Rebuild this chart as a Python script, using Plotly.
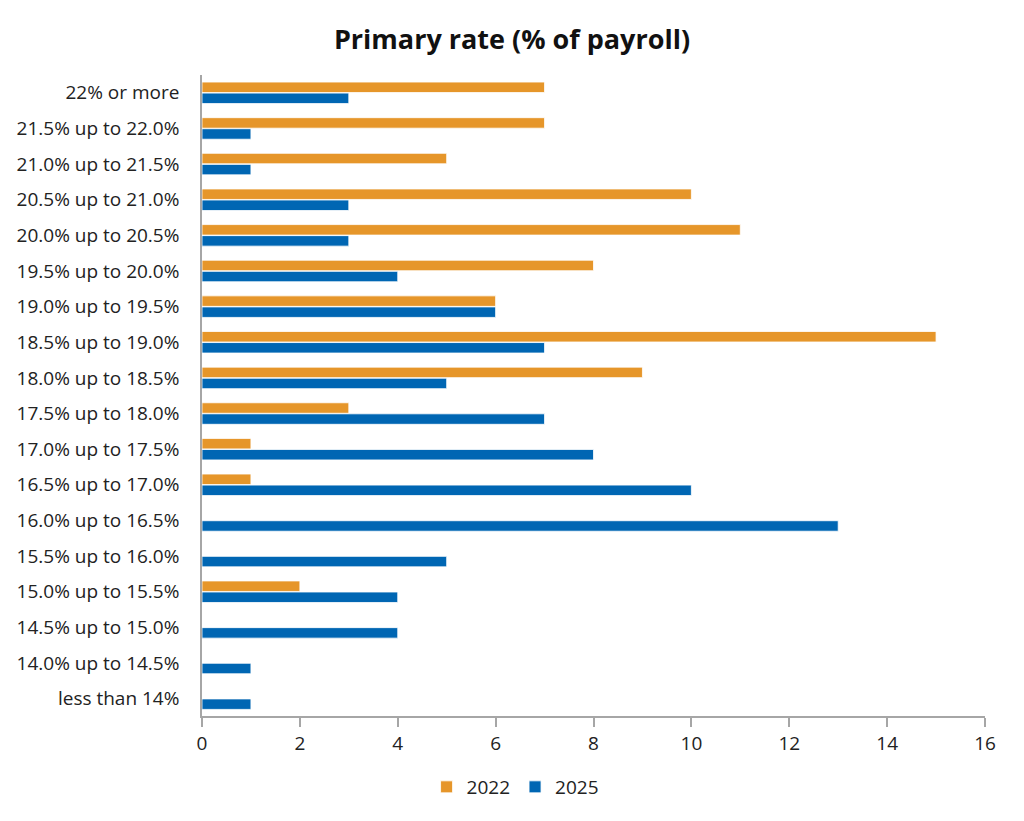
import plotly.graph_objects as go

categories = ["less than 14%", "14.0% up to 14.5%", "14.5% up to 15.0%", "15.0% up to 15.5%",
              "15.5% up to 16.0%", "16.0% up to 16.5%", "16.5% up to 17.0%", "17.0% up to 17.5%",
              "17.5% up to 18.0%", "18.0% up to 18.5%", "18.5% up to 19.0%", "19.0% up to 19.5%",
              "19.5% up to 20.0%", "20.0% up to 20.5%", "20.5% up to 21.0%", "21.0% up to 21.5%",
              "21.5% up to 22.0%", "22% or more"]
values_2022 = [0, 0, 0, 2, 0, 0, 1, 1, 3, 9, 15, 6, 8, 11, 10, 5, 7, 7]
values_2025 = [1, 1, 4, 4, 5, 13, 10, 8, 7, 5, 7, 6, 4, 3, 3, 1, 1, 3]
x_ticks = [0, 2, 4, 6, 8, 10, 12, 14, 16]

FONT = "Open Sans, Noto Sans, DejaVu Sans, sans-serif"

fig = go.Figure()
fig.add_trace(go.Bar(y=categories, x=values_2025, orientation="h", name="2025",
                     marker=dict(color="#0066B3", line=dict(color="white", width=0.8)),
                     legendrank=2))
fig.add_trace(go.Bar(y=categories, x=values_2022, orientation="h", name="2022",
                     marker=dict(color="#E6962A", line=dict(color="white", width=0.8)),
                     legendrank=1))

fig.update_layout(
    width=1024, height=821,
    margin=dict(l=202, r=39, t=75, b=103),
    paper_bgcolor="white", plot_bgcolor="white",
    barmode="group", bargap=0.38, bargroupgap=0.05,
    font=dict(family=FONT, size=19, color="#222222"),
    title=dict(text="<b>Primary rate (% of payroll)</b>", x=0.5, xanchor="center",
               y=1 - 40 / 821, yanchor="middle", yref="container",
               font=dict(size=27, color="#111111", family=FONT)),
    legend=dict(orientation="h", xref="container", yref="container",
                x=0.503, xanchor="center", y=1 - 787 / 821, yanchor="middle",
                font=dict(size=19), itemwidth=30, traceorder="normal"),
    xaxis=dict(range=[0, 16], tickvals=x_ticks, showgrid=False, zeroline=False,
               showline=True, linecolor="#A6A6A6", linewidth=1.5,
               ticks="outside", ticklen=9, tickcolor="#A6A6A6", tickwidth=1.5,
               tickfont=dict(size=19)),
    yaxis=dict(showgrid=False, zeroline=False, showline=True, linecolor="#A6A6A6",
               linewidth=1.5, ticks="", ticklabelstandoff=17, tickfont=dict(size=19),
               type="category"),
)

fig.write_html("out.html")
